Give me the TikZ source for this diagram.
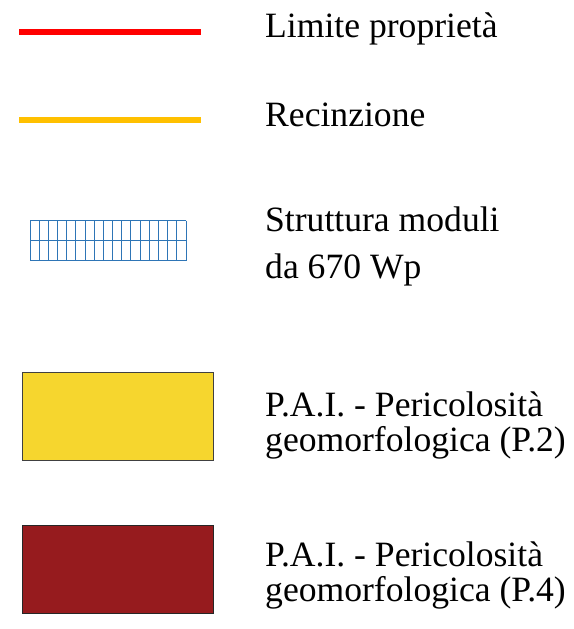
\documentclass[tikz,border=0pt]{standalone}
\usepackage{fontspec}
\setmainfont{Liberation Serif}
\usetikzlibrary{positioning}
\definecolor{limred}{RGB}{255,0,0}
\definecolor{recorange}{RGB}{255,192,0}
\definecolor{modblue}{RGB}{46,117,182}
\definecolor{paiyellow}{RGB}{246,214,46}
\definecolor{paired}{RGB}{150,27,30}

\begin{document}
\begin{tikzpicture}[x=1pt,y=-1pt,
  legtext/.style={anchor=base west,inner sep=0pt,align=left,
    font=\fontsize{35.6}{46.6}\selectfont},
  paitext/.style={legtext,font=\fontsize{35.6}{35}\selectfont},
  legline/.style={line width=6pt}]
\useasboundingbox (0,0) rectangle (573,629);

%limite proprieta
\draw[legline,limred](19,31.5)--(201,31.5);
\node[legtext] (lim) at (265,37.3) {Limite proprietà};
%recinzione
\draw[legline,recorange](19,119.5)--(201,119.5);
\node[legtext] (rec) at (265,126) {Recinzione};

%moduli (base = last line)
\begin{scope}[shift={(30,220.7)}]
\foreach \i in {0,...,17}
  \draw[modblue,line width=0.9pt](\i*9.176,0)--(\i*9.176,40);
\foreach \j in {0,1,2}
  \draw[modblue,line width=0.9pt](0,\j*20)--(156,\j*20);
\end{scope}
\node[legtext] (mod) at (265,278.3) {Struttura moduli\\da 670 Wp};

%P.2
\draw[draw=black!75,fill=paiyellow,line width=0.8pt](22,372) rectangle (213.7,460);
\node[paitext] (ptwo) at (265,451.5) {P.A.I. - Pericolosità\\geomorfologica (P.2)};
%P.4
\draw[draw=black!85,fill=paired,line width=0.8pt](22,525) rectangle (213.7,613.7);
\node[paitext] (pfour) at (265,601) {P.A.I. - Pericolosità\\geomorfologica (P.4)};
\end{tikzpicture}
\end{document}
